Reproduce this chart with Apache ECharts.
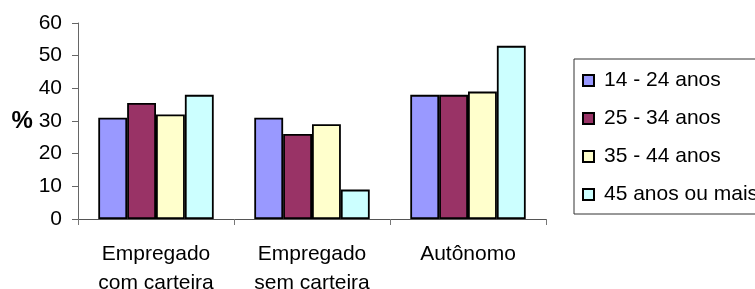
<!DOCTYPE html>
<html><head><meta charset="utf-8">
<script src="https://cdn.jsdelivr.net/npm/echarts@6/dist/echarts.min.js"></script>
<style>html,body{margin:0;padding:0;background:#fff}#c{width:755px;height:289px}</style>
</head><body><div id="c"></div>
<script>
const categories = ['Empregado\ncom carteira', 'Empregado\nsem carteira', 'Autônomo'];
const seriesNames = ['14 - 24 anos', '25 - 34 anos', '35 - 44 anos', '45 anos ou mais'];
const s1424 = [31, 31, 38];
const s2534 = [35.5, 26, 38];
const s3544 = [32, 29, 39];
const s45 = [38, 9, 53];
const yTicks = { min: 0, max: 60, interval: 10 };
const colors = ['#9999FF', '#993366', '#FFFFCC', '#CCFFFF'];
const allValues = [s1424, s2534, s3544, s45];

const font = 'Liberation Sans, Arial, sans-serif';
const chart = echarts.init(document.getElementById('c'), null, { renderer: 'canvas' });
chart.setOption({
  animation: false,
  backgroundColor: '#fff',
  grid: { left: 78, right: 209, top: 23, bottom: 70, containLabel: false, outerBoundsMode: 'none' },
  legend: {
    orient: 'vertical', left: 574, top: 59,
    padding: [11, 40, 9, 8],
    itemGap: 17, itemWidth: 11, itemHeight: 11, icon: 'rect',
    borderColor: '#333', borderWidth: 1,
    textStyle: { fontFamily: font, fontSize: 21, color: '#000', padding: [0, 0, 0, 5] },
    data: seriesNames
  },
  xAxis: {
    type: 'category', data: categories,
    axisLine: { lineStyle: { color: '#555', width: 1 } },
    axisTick: { show: true, length: 6, inside: false, lineStyle: { color: '#777' } },
    axisLabel: { fontFamily: font, fontSize: 21, color: '#000', margin: 21, lineHeight: 29 }
  },
  yAxis: {
    type: 'value', min: yTicks.min, max: yTicks.max, interval: yTicks.interval,
    name: '%', nameLocation: 'middle', nameRotate: 0, nameGap: 45,
    nameTextStyle: { fontFamily: font, fontSize: 24, fontWeight: 'bold', color: '#000' },
    axisLine: { show: true, lineStyle: { color: '#666', width: 1 } },
    axisTick: { show: true, length: 6, lineStyle: { color: '#666' } },
    splitLine: { show: false },
    axisLabel: { fontFamily: font, fontSize: 21, color: '#000', margin: 16 }
  },
  series: seriesNames.map((n, i) => ({
    name: n, type: 'bar', data: allValues[i],
    barGap: '0%', barCategoryGap: '26%',
    itemStyle: { color: colors[i], borderColor: '#000', borderWidth: 1.8 }
  }))
});
</script></body></html>
